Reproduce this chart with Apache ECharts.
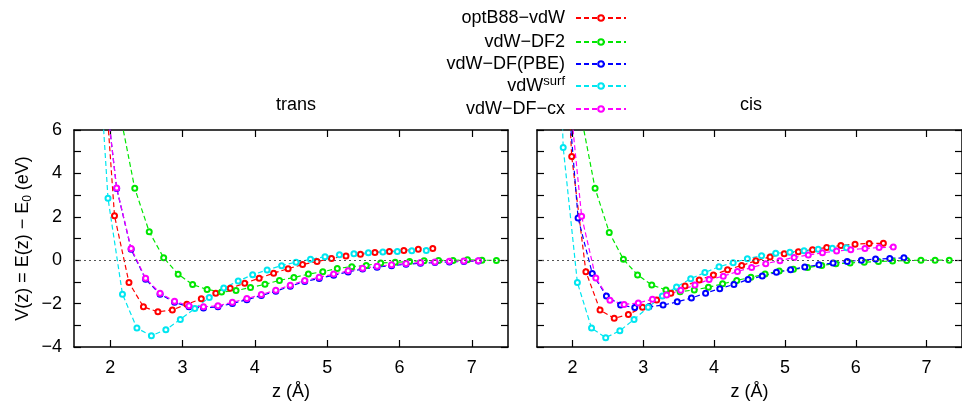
<!DOCTYPE html>
<html>
<head>
<meta charset="utf-8">
<script src="https://cdn.jsdelivr.net/npm/echarts@6/dist/echarts.min.js"></script>
<style>
html, body { margin: 0; padding: 0; background: #fff; }
#chart { width: 962px; height: 406px; }
</style>
</head>
<body>
<div id="chart"></div>
<script>
// tick labels
const zTicks = [2, 3, 4, 5, 6, 7];
const vTicks = [-4, -2, 0, 2, 4, 6];

const names = ['optB88-vdW', 'vdW-DF2', 'vdW-DF(PBE)', 'vdWsurf', 'vdW-DF-cx'];
const colors = ['#ff0000', '#00e600', '#0000ff', '#00e6f0', '#ff00ff'];

// trans
const transZ_optB88 = [1.86, 2.06, 2.26, 2.46, 2.66, 2.86, 3.06, 3.26, 3.46, 3.66, 3.86, 4.06, 4.26, 4.46, 4.66, 4.86, 5.06, 5.26, 5.46, 5.66, 5.86, 6.06, 6.26, 6.46];
const transV_optB88 = [11.5, 2.05, -1.03, -2.15, -2.38, -2.29, -2.03, -1.78, -1.52, -1.29, -1.06, -0.83, -0.60, -0.39, -0.20, -0.06, 0.08, 0.19, 0.27, 0.36, 0.40, 0.45, 0.51, 0.54];

const transZ_df2 = [2.14, 2.34, 2.54, 2.74, 2.94, 3.14, 3.34, 3.54, 3.74, 3.94, 4.14, 4.34, 4.54, 4.74, 4.94, 5.14, 5.34, 5.54, 5.74, 5.94, 6.14, 6.34, 6.54, 6.74, 6.94, 7.14, 7.34];
const transV_df2 = [6.7, 3.31, 1.31, 0.11, -0.65, -1.12, -1.35, -1.46, -1.40, -1.26, -1.11, -0.93, -0.80, -0.64, -0.53, -0.38, -0.30, -0.24, -0.13, -0.10, -0.06, -0.02, -0.01, -0.01, 0.02, 0.00, -0.01];

const transZ_pbe = [1.89, 2.09, 2.29, 2.49, 2.69, 2.89, 3.09, 3.29, 3.49, 3.69, 3.89, 4.09, 4.29, 4.49, 4.69, 4.89, 5.09, 5.29, 5.49, 5.69, 5.89, 6.09, 6.29, 6.49, 6.69, 6.89, 7.09];
const transV_pbe = [9.1, 3.30, 0.50, -0.88, -1.57, -1.94, -2.15, -2.20, -2.15, -1.99, -1.82, -1.63, -1.43, -1.20, -0.98, -0.84, -0.69, -0.54, -0.41, -0.32, -0.25, -0.19, -0.14, -0.11, -0.08, -0.06, -0.04];

const transZ_surf = [1.77, 1.97, 2.17, 2.37, 2.57, 2.77, 2.97, 3.17, 3.37, 3.57, 3.77, 3.97, 4.17, 4.37, 4.57, 4.77, 4.97, 5.17, 5.37, 5.57, 5.77, 5.97, 6.17, 6.37];
const transV_surf = [13.4, 2.85, -1.57, -3.13, -3.48, -3.20, -2.73, -2.23, -1.72, -1.28, -0.96, -0.67, -0.45, -0.25, -0.09, 0.04, 0.16, 0.25, 0.30, 0.34, 0.38, 0.40, 0.44, 0.45];

const transZ_cx = [1.89, 2.09, 2.29, 2.49, 2.69, 2.89, 3.09, 3.29, 3.49, 3.69, 3.89, 4.09, 4.29, 4.49, 4.69, 4.89, 5.09, 5.29, 5.49, 5.69, 5.89, 6.09, 6.29, 6.49, 6.69, 6.89, 7.09];
const transV_cx = [9.1, 3.33, 0.54, -0.83, -1.52, -1.89, -2.10, -2.15, -2.10, -1.94, -1.77, -1.58, -1.38, -1.15, -0.93, -0.79, -0.64, -0.49, -0.37, -0.28, -0.21, -0.15, -0.11, -0.08, -0.05, -0.04, -0.02];

// cis
const cisZ_optB88 = [1.79, 1.99, 2.19, 2.39, 2.59, 2.79, 2.99, 3.19, 3.39, 3.59, 3.79, 3.99, 4.19, 4.39, 4.59, 4.79, 4.99, 5.19, 5.39, 5.59, 5.79, 5.99, 6.19, 6.39];
const cisV_optB88 = [18, 4.78, -0.53, -2.30, -2.68, -2.50, -2.17, -1.83, -1.52, -1.19, -0.91, -0.68, -0.44, -0.24, -0.03, 0.15, 0.30, 0.39, 0.48, 0.59, 0.68, 0.74, 0.77, 0.78];

const cisZ_df2 = [2.12, 2.32, 2.52, 2.72, 2.92, 3.12, 3.32, 3.52, 3.72, 3.92, 4.12, 4.32, 4.52, 4.72, 4.92, 5.12, 5.32, 5.52, 5.72, 5.92, 6.12, 6.32, 6.52, 6.72, 6.92, 7.12, 7.32];
const cisV_df2 = [6.7, 3.31, 1.28, 0.04, -0.68, -1.14, -1.37, -1.45, -1.37, -1.25, -1.09, -0.93, -0.79, -0.64, -0.50, -0.42, -0.34, -0.24, -0.16, -0.13, -0.09, -0.06, -0.04, -0.01, 0.00, 0.00, 0.00];

const cisZ_pbe = [1.88, 2.08, 2.28, 2.48, 2.68, 2.88, 3.08, 3.28, 3.48, 3.68, 3.88, 4.08, 4.28, 4.48, 4.68, 4.88, 5.08, 5.28, 5.48, 5.68, 5.88, 6.08, 6.28, 6.48, 6.68];
const cisV_pbe = [10, 1.94, -0.61, -1.65, -2.07, -2.18, -2.15, -2.07, -1.92, -1.74, -1.52, -1.31, -1.12, -0.89, -0.73, -0.56, -0.44, -0.31, -0.21, -0.13, -0.06, 0.00, 0.05, 0.08, 0.11];

const cisZ_surf = [1.67, 1.87, 2.07, 2.27, 2.47, 2.67, 2.87, 3.07, 3.27, 3.47, 3.67, 3.87, 4.07, 4.27, 4.47, 4.67, 4.87, 5.07, 5.27, 5.47, 5.67, 5.87];
const cisV_surf = [25, 5.19, -1.03, -3.13, -3.57, -3.25, -2.73, -2.17, -1.65, -1.23, -0.85, -0.57, -0.30, -0.12, 0.07, 0.21, 0.32, 0.37, 0.44, 0.50, 0.55, 0.57];

const cisZ_cx = [1.93, 2.13, 2.33, 2.53, 2.73, 2.93, 3.13, 3.33, 3.53, 3.73, 3.93, 4.13, 4.33, 4.53, 4.73, 4.93, 5.13, 5.33, 5.53, 5.73, 5.93, 6.13, 6.33, 6.53];
const cisV_cx = [8.6, 2.02, -0.82, -1.84, -2.04, -1.97, -1.80, -1.60, -1.39, -1.14, -0.89, -0.74, -0.52, -0.34, -0.16, -0.02, 0.13, 0.24, 0.34, 0.42, 0.48, 0.54, 0.58, 0.61];

const FONT = 'Liberation Sans';
const minus = v => String(v).replace(/-/g, '\u2212');

const trans = [[transZ_optB88, transV_optB88], [transZ_df2, transV_df2], [transZ_pbe, transV_pbe], [transZ_surf, transV_surf], [transZ_cx, transV_cx]];
const cis = [[cisZ_optB88, cisV_optB88], [cisZ_df2, cisV_df2], [cisZ_pbe, cisV_pbe], [cisZ_surf, cisV_surf], [cisZ_cx, cisV_cx]];

const makeSeries = (sets, grid) => sets.map(([z, v], i) => {
    const s = {
        name: names[i],
        type: 'line',
        xAxisIndex: grid * 2,
        yAxisIndex: grid * 2,
        data: z.map((x, k) => [x, v[k]]),
        clip: true,
        symbol: 'emptyCircle',
        symbolSize: 5,
        showAllSymbol: true,
        color: colors[i],
        lineStyle: { width: 1.2, type: [5, 3], color: colors[i] },
        itemStyle: { color: colors[i], borderColor: colors[i], borderWidth: 1.3 },
        emphasis: { disabled: true },
        animation: false,
    };
    if (i === 0) {
        // dotted zero line
        s.markLine = {
            silent: true,
            symbol: 'none',
            label: { show: false },
            lineStyle: { type: [2, 3], color: '#555', width: 1.2 },
            data: [{ yAxis: 0 }],
            animation: false,
        };
    }
    return s;
});

const axisLine = { show: true, onZero: false, lineStyle: { color: '#000', width: 1.5 } };

const xAxisPair = grid => [
    {
        type: 'value', gridIndex: grid, position: 'bottom', min: 1.5, max: 7.5,
        name: 'z (\u00c5)', nameLocation: 'middle', nameGap: 36,
        nameTextStyle: { fontFamily: FONT, fontSize: 18, color: '#000' },
        axisLine,
        axisTick: { inside: true, length: 7, customValues: zTicks, lineStyle: { color: '#000', width: 1.2 } },
        axisLabel: { customValues: zTicks, margin: 12, fontFamily: FONT, fontSize: 18, color: '#000' },
        splitLine: { show: false },
    },
    {
        type: 'value', gridIndex: grid, position: 'top', min: 1.5, max: 7.5,
        axisLine,
        axisTick: { inside: true, length: 7, customValues: zTicks, lineStyle: { color: '#000', width: 1.2 } },
        axisLabel: { show: false },
        splitLine: { show: false },
    },
];

const yAxisPair = grid => [
    {
        type: 'value', gridIndex: grid, position: 'left', min: -4, max: 6, interval: 1,
        name: grid === 0 ? '{n|V(z) = E(z) \u2212 E}{s|0}{n| (eV)}' : '',
        nameLocation: 'middle', nameGap: 40, nameRotate: 90,
        nameTextStyle: {
            rich: {
                n: { fontFamily: FONT, fontSize: 18, color: '#000', lineHeight: 22 },
                s: { fontFamily: FONT, fontSize: 12, color: '#000', lineHeight: 22, verticalAlign: 'bottom', padding: [6, 0, 0, 0] },
            },
        },
        axisLine,
        axisTick: { inside: true, length: 7, lineStyle: { color: '#000', width: 1.2 } },
        axisLabel: {
            show: grid === 0, customValues: vTicks, margin: 12,
            fontFamily: FONT, fontSize: 18, color: '#000', formatter: minus,
        },
        splitLine: { show: false },
    },
    {
        type: 'value', gridIndex: grid, position: 'right', min: -4, max: 6, interval: 1,
        axisLine,
        axisTick: { inside: true, length: 7, lineStyle: { color: '#000', width: 1.2 } },
        axisLabel: { show: false },
        splitLine: { show: false },
    },
];

// one legend per row so the icons line up on the right
const legendTops = [9, 33, 55, 75, 100];
const legends = names.map((n, i) => ({
    data: [n],
    orient: 'vertical',
    align: 'right',
    right: 335,
    top: legendTops[i],
    padding: 0,
    itemWidth: 50,
    itemHeight: 7,
    selectedMode: false,
    formatter: name => name === 'vdWsurf' ? '{b|vdW}{sup|surf}' : '{b|' + minus(name) + '}',
    textStyle: {
        padding: [0, 6, 0, 0],
        rich: {
            b: { fontFamily: FONT, fontSize: 18, color: '#000', lineHeight: 22 },
            sup: { fontFamily: FONT, fontSize: 13, color: '#000', lineHeight: 22, verticalAlign: 'top', padding: [0, 0, 8, 0] },
        },
    },
}));

const chart = echarts.init(document.getElementById('chart'));
chart.setOption({
    backgroundColor: '#fff',
    animation: false,
    title: [
        { text: 'trans', left: 291, top: 91, textAlign: 'center', textStyle: { fontFamily: FONT, fontSize: 18, fontWeight: 'normal', color: '#000' } },
        { text: 'cis', left: 746, top: 91, textAlign: 'center', textStyle: { fontFamily: FONT, fontSize: 18, fontWeight: 'normal', color: '#000' } },
    ],
    legend: legends,
    grid: [
        { left: 74, right: 454, top: 130, bottom: 58 },
        { left: 537, right: -8, top: 130, bottom: 58 },
    ],
    xAxis: [...xAxisPair(0), ...xAxisPair(1)],
    yAxis: [...yAxisPair(0), ...yAxisPair(1)],
    series: [...makeSeries(trans, 0), ...makeSeries(cis, 1)],
});
</script>
</body>
</html>
